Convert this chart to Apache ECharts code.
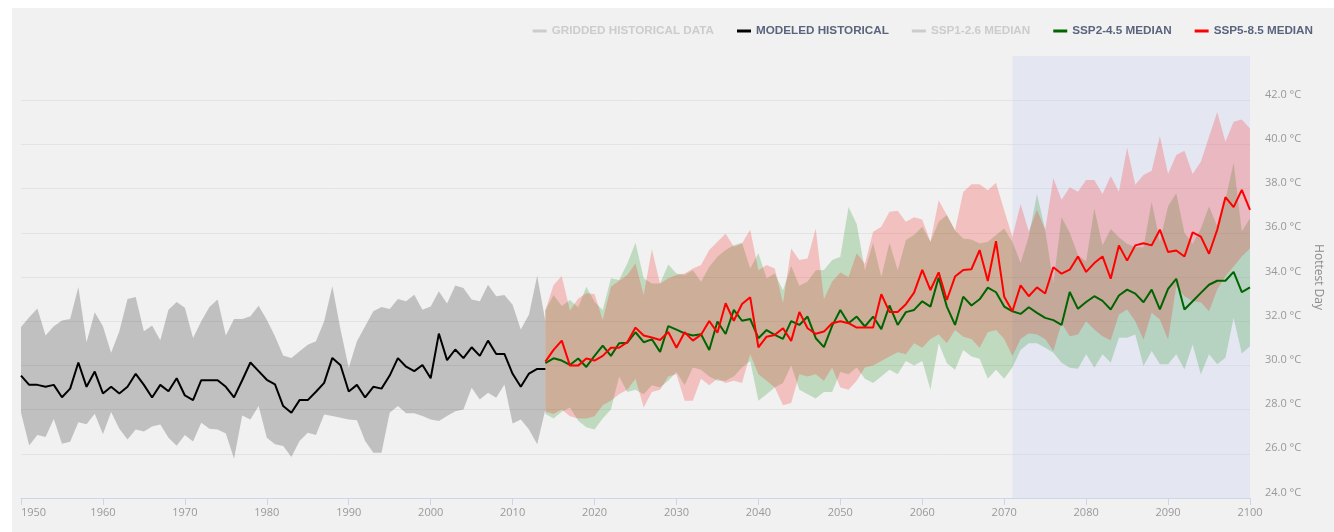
<!DOCTYPE html>
<html>
<head>
<meta charset="utf-8">
<title>Hottest Day</title>
<script src="https://cdn.jsdelivr.net/npm/echarts@6/dist/echarts.min.js"></script>
<style>
    html, body { margin: 0; padding: 0; background: #ffffff; }
    #chart {
        position: absolute;
        left: 12px;
        top: 8px;
        width: 1322px;
        height: 524px;
        background: #f1f1f1;
    }
</style>
</head>
<body>
<div id="chart"></div>
<script>
// years
const histStartYear = 1950;
const projStartYear = 2014;
const shadeStart = 2071;
const shadeEnd = 2100;

const legendNames = ['GRIDDED HISTORICAL DATA', 'MODELED HISTORICAL', 'SSP1-2.6 MEDIAN', 'SSP2-4.5 MEDIAN', 'SSP5-8.5 MEDIAN'];

// modeled historical median, 1950-2014
const modeledHistorical = [
    29.54, 29.12, 29.12, 29.03, 29.12, 28.56, 28.95, 30.13, 29.03, 29.72,
    28.73, 29.03, 28.73, 29.03, 29.62, 29.12, 28.55, 29.12, 28.83, 29.42,
    28.64, 28.43, 29.33, 29.33, 29.33, 29.03, 28.55, 29.33, 30.13, 29.74,
    29.35, 29.14, 28.16, 27.86, 28.43, 28.43, 28.81, 29.21, 30.34, 30.01,
    28.82, 29.12, 28.55, 29.03, 28.95, 29.54, 30.33, 29.94, 29.74, 30.02,
    29.42, 31.44, 30.24, 30.72, 30.33, 30.82, 30.43, 31.12, 30.52, 30.52,
    29.62, 29.03, 29.63, 29.84, 29.84
];
const historicalHigh = [
    31.74, 32.18, 32.58, 31.35, 31.77, 32.03, 32.10, 33.55, 31.05, 32.40,
    31.77, 30.57, 31.55, 33.01, 33.10, 31.55, 31.80, 31.14, 32.52, 32.87,
    32.61, 31.24, 32.00, 32.64, 32.98, 31.35, 32.10, 32.10, 32.22, 32.70,
    32.07, 31.32, 30.45, 30.34, 30.64, 30.94, 31.09, 32.00, 33.58, 31.62,
    29.89, 31.09, 31.77, 32.45, 32.64, 32.55, 33.00, 32.90, 33.20, 32.52,
    32.67, 33.35, 32.80, 33.61, 33.50, 32.98, 32.90, 33.65, 33.13, 33.19,
    32.75, 31.62, 32.30, 34.06, 32.00
];
const historicalLow = [
    27.86, 26.38, 26.85, 26.76, 27.58, 26.46, 26.55, 27.43, 27.34, 27.81,
    26.89, 27.89, 27.13, 26.65, 27.10, 27.01, 27.24, 27.33, 26.73, 26.36,
    26.85, 26.56, 27.40, 27.13, 27.10, 26.92, 25.78, 27.73, 27.55, 28.16,
    26.73, 26.43, 26.35, 25.85, 26.58, 26.95, 26.85, 27.78, 27.71, 27.63,
    27.55, 27.52, 26.58, 26.05, 26.05, 27.86, 28.16, 27.83, 27.83, 27.71,
    27.55, 27.48, 27.71, 27.93, 28.01, 28.99, 28.46, 28.76, 28.54, 29.14,
    27.37, 27.55, 27.10, 26.43, 28.00
];

// SSP2-4.5, 2014-2100
const ssp245Median = [
    30.10, 30.32, 30.22, 30.02, 30.31, 29.93, 30.43, 30.89, 30.43, 31.00,
    31.03, 31.50, 31.05, 31.18, 30.61, 31.78, 31.62, 31.45, 31.35, 31.41,
    30.70, 31.99, 31.42, 32.51, 32.02, 32.10, 31.23, 31.60, 31.38, 31.20,
    32.00, 31.83, 32.21, 31.23, 30.83, 31.79, 32.51, 31.91, 32.21, 31.76,
    32.21, 31.64, 32.71, 31.83, 32.41, 32.51, 32.90, 32.66, 33.98, 32.66,
    31.83, 33.11, 32.71, 32.99, 33.52, 33.31, 32.66, 32.45, 32.33, 32.63,
    32.38, 32.15, 32.05, 31.83, 33.32, 32.56, 32.87, 33.13, 32.92, 32.53,
    33.16, 33.43, 33.25, 32.86, 33.43, 32.53, 33.46, 33.92, 32.53, 32.90,
    33.28, 33.65, 33.83, 33.83, 34.23, 33.32, 33.53
];
const ssp245High = [
    32.50, 33.18, 32.69, 32.96, 32.63, 33.56, 32.88, 32.51, 33.94, 33.86,
    34.61, 35.55, 33.94, 33.71, 33.71, 34.57, 34.16, 34.09, 34.31, 33.79,
    34.46, 34.92, 35.22, 35.44, 35.55, 34.39, 35.07, 33.94, 34.16, 33.40,
    34.50, 33.60, 33.80, 34.30, 34.32, 34.77, 34.92, 37.17, 36.40, 34.30,
    35.55, 34.00, 35.55, 34.30, 35.67, 35.90, 36.27, 35.60, 36.50, 36.80,
    36.10, 35.74, 35.70, 35.52, 35.60, 35.90, 36.20, 35.60, 34.63, 35.83,
    37.76, 36.14, 33.73, 36.70, 36.00, 35.00, 34.70, 37.10, 35.42, 36.17,
    35.80, 35.50, 35.35, 35.35, 37.41, 35.60, 37.20, 37.79, 36.00, 35.50,
    36.20, 37.19, 36.30, 37.50, 39.17, 36.06, 36.66
];
const ssp245Low = [
    27.80, 27.60, 27.90, 28.10, 27.50, 27.20, 27.10, 27.60, 28.00, 29.50,
    28.80, 28.90, 28.70, 29.10, 29.00, 29.30, 29.70, 29.10, 29.90, 29.80,
    29.50, 29.30, 29.30, 29.50, 29.90, 30.20, 28.40, 28.70, 29.00, 29.20,
    30.00, 28.90, 28.70, 28.50, 28.80, 28.80, 29.70, 29.60, 29.90, 29.40,
    29.20, 29.50, 29.80, 29.60, 30.20, 30.00, 30.20, 28.90, 31.00, 30.10,
    29.80, 30.70, 30.40, 30.30, 29.40, 29.80, 29.40, 29.90, 30.70, 31.00,
    31.00, 30.80, 30.57, 30.12, 29.89, 29.85, 30.50, 29.89, 30.50, 30.12,
    31.25, 31.25, 31.40, 29.97, 30.65, 30.05, 30.05, 30.50, 29.82, 30.95,
    29.59, 30.50, 30.05, 30.35, 32.15, 30.54, 30.87
];

// SSP5-8.5, 2014-2100
const ssp585Median = [
    30.17, 30.70, 31.12, 29.99, 29.99, 30.31, 30.22, 30.43, 30.80, 30.80,
    31.05, 31.71, 31.35, 31.26, 31.15, 31.51, 30.80, 31.50, 31.12, 31.39,
    32.01, 31.48, 32.81, 32.02, 32.78, 33.08, 30.82, 31.30, 31.38, 31.68,
    31.11, 32.42, 31.68, 31.43, 31.53, 31.91, 32.00, 31.91, 31.71, 31.71,
    31.71, 33.22, 32.42, 32.42, 32.77, 33.29, 34.32, 33.41, 34.21, 32.96,
    34.02, 34.32, 34.35, 35.22, 33.82, 35.62, 33.11, 32.45, 33.62, 33.13,
    33.53, 33.25, 34.44, 34.15, 34.33, 34.93, 34.23, 34.63, 34.93, 33.92,
    35.43, 34.74, 35.43, 35.53, 35.43, 36.14, 35.13, 35.20, 34.93, 36.02,
    35.83, 35.05, 36.14, 37.61, 37.16, 37.94, 37.04
];
const ssp585High = [
    32.50, 33.64, 34.04, 32.48, 33.03, 33.26, 33.23, 32.05, 33.56, 33.83,
    34.09, 34.61, 33.18, 35.26, 33.71, 33.94, 34.09, 34.16, 34.39, 34.54,
    35.22, 35.59, 35.97, 35.37, 35.52, 36.15, 34.31, 34.54, 34.39, 32.81,
    35.29, 34.77, 34.84, 36.20, 33.00, 33.80, 34.20, 34.00, 35.07, 34.60,
    36.05, 36.27, 36.95, 37.00, 36.50, 36.70, 36.60, 35.60, 37.47, 36.80,
    36.12, 37.85, 38.20, 38.20, 37.92, 38.26, 37.02, 35.82, 37.30, 36.06,
    37.04, 36.14, 38.47, 37.49, 38.06, 37.86, 38.39, 38.39, 37.76, 38.57,
    37.86, 39.86, 38.17, 38.62, 38.81, 40.38, 38.66, 39.52, 39.71, 38.66,
    39.22, 40.35, 41.47, 40.12, 41.02, 41.13, 40.72
];
const ssp585Low = [
    27.90, 27.80, 28.00, 27.70, 27.60, 27.60, 27.70, 28.20, 28.40, 28.70,
    28.90, 29.40, 28.10, 28.80, 28.90, 29.50, 29.60, 28.40, 28.40, 29.40,
    29.10, 29.40, 29.20, 29.30, 29.20, 30.50, 29.60, 29.30, 29.00, 28.20,
    28.30, 29.60, 29.50, 29.60, 29.30, 29.90, 29.00, 28.90, 29.30, 29.90,
    30.00, 30.20, 30.40, 30.60, 30.50, 31.00, 30.80, 31.20, 31.40, 31.00,
    31.60, 31.30, 31.20, 30.80, 31.50, 31.60, 31.20, 30.42, 31.20, 31.45,
    31.40, 31.20, 30.65, 31.92, 31.32, 31.40, 32.00, 31.62, 31.32, 31.14,
    32.30, 32.53, 32.00, 31.17, 32.38, 32.08, 31.17, 33.58, 33.13, 32.90,
    32.86, 32.45, 33.43, 34.03, 34.48, 34.93, 35.30
];

// turn a list of values into [year, value] pairs
function toPairs(startYear, values) {
    return values.map((v, i) => [startYear + i, v]);
}

// min/max band drawn as one polygon through the axes
function bandSeries(name, startYear, low, high, color, z) {
    return {
        type: 'custom',
        name: name,
        z: z,
        silent: true,
        data: [[startYear, low[0]]],
        renderItem(params, api) {
            const points = [];
            high.forEach((v, i) => points.push(api.coord([startYear + i, v])));
            for (let i = low.length - 1; i >= 0; i--) {
                points.push(api.coord([startYear + i, low[i]]));
            }
            return {
                type: 'polygon',
                shape: {points: points},
                style: {fill: color}
            };
        }
    };
}

function lineSeries(name, startYear, values, color, z) {
    return {
        type: 'line',
        name: name,
        data: toPairs(startYear, values),
        symbol: 'none',
        z: z,
        color: color,
        lineStyle: {color: color, width: 2},
        emphasis: {disabled: true}
    };
}

const chart = echarts.init(document.getElementById('chart'));

const historicalBand = bandSeries('historical range', histStartYear, historicalLow, historicalHigh, 'rgba(0,0,0,0.2)', 1);
// the end-of-century window
historicalBand.markArea = {
    silent: true,
    itemStyle: {color: 'rgba(190,205,245,0.25)'},
    data: [[{xAxis: shadeStart}, {xAxis: shadeEnd}]]
};

const option = {
    animation: false,
    backgroundColor: '#f1f1f1',
    textStyle: {fontFamily: 'Open Sans, sans-serif'},
    legend: {
        data: legendNames,
        right: 16,
        top: 12,
        icon: 'rect',
        itemWidth: 14,
        itemHeight: 3,
        itemGap: 23,
        inactiveColor: '#cccccc',
        selected: {
            'GRIDDED HISTORICAL DATA': false,
            'SSP1-2.6 MEDIAN': false
        },
        textStyle: {
            color: '#5a647d',
            fontFamily: 'Liberation Sans, Arial, sans-serif',
            fontWeight: 'bold',
            fontSize: 11.7
        }
    },
    grid: {
        left: 9,
        right: 84,
        top: 48,
        bottom: 34,
        outerBoundsMode: 'none'
    },
    xAxis: {
        type: 'value',
        min: 1950,
        max: 2100,
        interval: 10,
        axisLine: {show: true, lineStyle: {color: '#ccd6eb'}},
        axisTick: {show: true, length: 7, lineStyle: {color: '#ccd6eb'}},
        splitLine: {show: false},
        axisLabel: {
            color: '#999999',
            fontSize: 11,
            margin: 9,
            alignMinLabel: 'left',
            formatter: v => String(v)
        }
    },
    yAxis: {
        type: 'value',
        position: 'right',
        min: 24,
        max: 44,
        interval: 2,
        name: 'Hottest Day',
        nameLocation: 'middle',
        nameRotate: -90,
        nameGap: 62,
        nameTextStyle: {color: '#8c8c8c', fontSize: 12},
        axisLine: {show: false},
        axisTick: {show: false},
        splitLine: {
            show: true,
            showMaxLine: false,
            lineStyle: {color: '#e3e3e3'}
        },
        axisLabel: {
            color: '#999999',
            fontSize: 11,
            margin: 15,
            verticalAlign: 'bottom',
            showMaxLabel: false,
            formatter: v => v.toFixed(1) + ' °C'
        }
    },
    series: [
        historicalBand,
        bandSeries('ssp245 range', projStartYear, ssp245Low, ssp245High, 'rgba(0,128,0,0.2)', 2),
        bandSeries('ssp585 range', projStartYear, ssp585Low, ssp585High, 'rgba(255,0,0,0.2)', 3),
        lineSeries('GRIDDED HISTORICAL DATA', histStartYear, [], '#7f7f7f', 4),
        lineSeries('MODELED HISTORICAL', histStartYear, modeledHistorical, '#000000', 5),
        lineSeries('SSP1-2.6 MEDIAN', projStartYear, [], '#3060c0', 5),
        lineSeries('SSP2-4.5 MEDIAN', projStartYear, ssp245Median, '#006400', 6),
        lineSeries('SSP5-8.5 MEDIAN', projStartYear, ssp585Median, '#ff0000', 7)
    ]
};

chart.setOption(option);
</script>
</body>
</html>
